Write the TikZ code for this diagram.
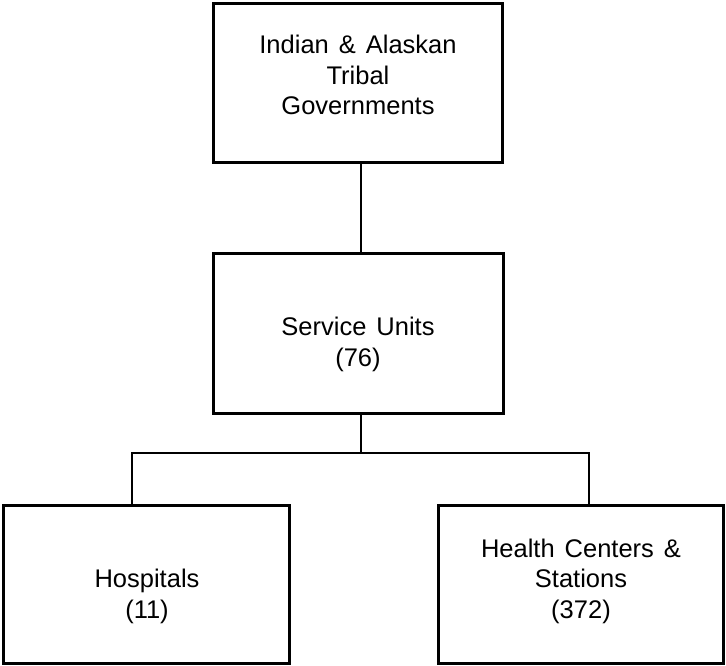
\documentclass[tikz,border=0pt]{standalone}
\usepackage{fontspec}
\setmainfont{Liberation Sans}
\newcommand\lblfont{\fontsize{25.5}{30.5}\selectfont\spaceskip=10pt plus 1pt\relax}
\begin{document}
\begin{tikzpicture}[x=1pt,y=-1pt,
  orgbox/.style={draw=black,line width=3.2pt},
  lbl/.style={align=center,inner sep=0pt,anchor=base,font=\lblfont},
  conn/.style={draw=black,line width=1.6pt}]
\useasboundingbox[fill=white] (0,0) rectangle (726,666);
\node[inner sep=0pt,minimum width=288pt,minimum height=158pt] (top) at (358,83) {};
\node[inner sep=0pt,minimum width=289pt,minimum height=159pt] (mid) at (358.5,333.5) {};
\node[inner sep=0pt,minimum width=285pt,minimum height=157pt] (hosp) at (146.5,584.5) {};
\node[inner sep=0pt,minimum width=284pt,minimum height=157pt] (hc) at (581,584.5) {};
\coordinate (br) at (361,453);
\coordinate (bl) at (132,453);
\coordinate (bri) at (589,453);
\draw[conn] (top.south -| br) -- (mid.north -| br);
\draw[conn] (mid.south -| br) -- (br);
\draw[conn] (hosp.north -| bl) -- (bl) -- (bri) -- (hc.north -| bri);
\draw[orgbox] (top.north west) rectangle (top.south east);
\draw[orgbox] (mid.north west) rectangle (mid.south east);
\draw[orgbox] (hosp.north west) rectangle (hosp.south east);
\draw[orgbox] (hc.north west) rectangle (hc.south east);
\node[lbl] (ttop) at (358,115) {Indian \& Alaskan\\Tribal\\Governments};
\node[lbl] (tmid) at (358,366) {Service Units\\(76)};
\node[lbl] (thosp) at (147,618) {Hospitals\\(11)};
\node[lbl] (thc) at (581,618) {Health Centers \&\\Stations\\(372)};
\end{tikzpicture}
\end{document}
